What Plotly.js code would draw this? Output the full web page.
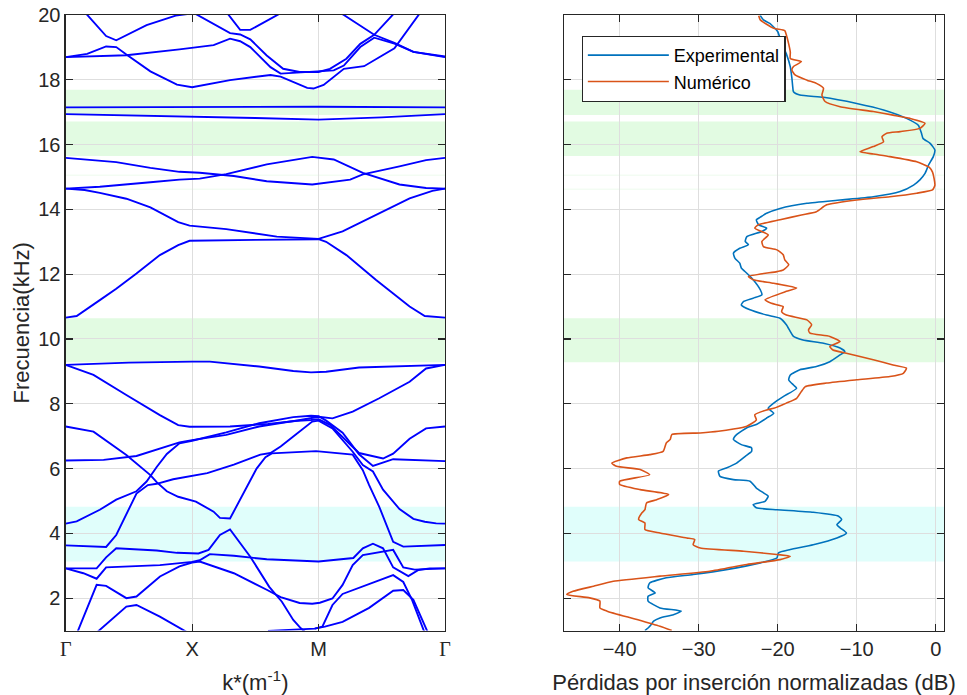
<!DOCTYPE html>
<html><head><meta charset="utf-8">
<script src="https://cdn.plot.ly/plotly-3.0.1.min.js"></script>
<style>html,body{margin:0;padding:0;background:#fff}#chart{width:967px;height:695px}</style>
</head><body><div id="chart"></div>
<script>
// ---------- Left panel: band structure (k path Γ-X-M-Γ = 0..3, frequency in kHz) ----------
const kTickVals = [0, 1, 2, 3];
const kTickText = ["<span style='font-family:Liberation Serif'>Γ</span>", "X", "M", "<span style='font-family:Liberation Serif'>Γ</span>"];

const bT1k = [0.08, 0.17, 0.32, 0.40, 0.64, 0.87, 1.0];
const bT1f = [20.4, 20.0, 19.35, 19.22, 19.69, 19.98, 20.05];
const bT2k = [1.24, 1.38, 1.46, 1.72];
const bT2f = [20.25, 19.54, 19.54, 20.1];
const bU1k = [0, 0.17, 0.32, 0.40, 0.48, 0.67, 0.88, 1.0, 1.30, 1.62, 1.70, 1.91, 1.96, 2.04, 2.20, 2.36, 2.60, 2.80];
const bU1f = [18.70, 18.80, 19.03, 19.01, 18.78, 18.26, 17.85, 17.77, 17.99, 18.15, 18.10, 17.75, 17.73, 17.84, 18.34, 18.42, 18.97, 20.05];
const bQk = [0, 0.48, 0.90, 1.0, 1.17, 1.30, 1.38, 1.46, 1.62, 1.70, 2.0, 2.12, 2.20, 2.33, 2.44, 2.60, 2.75, 3.0];
const bQf = [18.70, 18.76, 18.94, 18.98, 19.07, 19.27, 19.19, 19.01, 18.39, 18.19, 18.26, 18.29, 18.44, 19.01, 19.30, 19.12, 18.86, 18.70];
const bPk = [1.02, 1.30, 1.38, 1.46, 1.59, 1.72, 1.85, 2.0, 2.09, 2.22, 2.33, 2.44, 2.59];
const bPf = [20.05, 19.44, 19.40, 19.25, 18.75, 18.34, 18.24, 18.24, 18.34, 18.65, 19.11, 19.39, 20.02];
const bRk = [2.15, 2.2, 2.44, 2.60, 2.75, 3.0];
const bRf = [20.12, 20.0, 19.39, 19.14, 18.86, 18.72];
const bF1k = [0, 1, 2, 3];
const bF1f = [17.15, 17.16, 17.17, 17.15];
const bF2k = [0, 0.5, 1, 1.5, 2, 2.5, 3];
const bF2f = [16.94, 16.90, 16.88, 16.82, 16.77, 16.84, 16.94];
const bG1k = [0, 0.4, 0.67, 0.9, 1.06, 1.33, 1.59, 1.95, 2.25, 2.35, 2.64, 2.85, 3.0];
const bG1f = [15.59, 15.46, 15.28, 15.16, 15.13, 15.03, 14.87, 14.77, 14.92, 15.08, 15.33, 15.52, 15.59];
const bG2k = [0, 0.27, 0.67, 0.9, 1.06, 1.27, 1.59, 1.95, 2.12, 2.35, 2.64, 2.85, 3.0];
const bG2f = [14.64, 14.70, 14.84, 14.92, 14.95, 15.09, 15.39, 15.62, 15.54, 15.13, 14.77, 14.66, 14.64];
const bH1k = [0, 0.15, 0.27, 0.48, 0.67, 0.89, 0.98, 1.27, 1.67, 2.0, 2.19, 2.455, 2.72, 2.90, 3.0];
const bH1f = [14.64, 14.60, 14.51, 14.33, 14.06, 13.61, 13.50, 13.39, 13.16, 13.09, 13.32, 13.83, 14.34, 14.57, 14.64];
const bH2k = [0, 0.087, 0.27, 0.40, 0.56, 0.745, 0.89, 0.98, 1.5, 2.0, 2.06, 2.22, 2.455, 2.72, 2.84, 3.0];
const bH2f = [10.66, 10.71, 11.2, 11.55, 12.02, 12.59, 12.9, 13.03, 13.06, 13.08, 13.0, 12.59, 11.82, 11.0, 10.71, 10.66];
const bI1k = [0, 0.5, 1.0, 1.14, 1.53, 1.80, 1.94, 2.06, 2.32, 2.85, 3.0];
const bI1f = [9.20, 9.27, 9.30, 9.30, 9.15, 9.01, 8.97, 8.99, 9.12, 9.19, 9.20];
const bI2k = [0, 0.22, 0.48, 0.745, 0.89, 0.98, 1.3, 1.6, 1.8, 2.0, 2.11, 2.27, 2.48, 2.72, 2.85, 3.0];
const bI2f = [9.20, 8.89, 8.27, 7.65, 7.34, 7.29, 7.30, 7.38, 7.46, 7.60, 7.55, 7.76, 8.17, 8.68, 9.09, 9.20];
const bAk = [0, 0.22, 0.48, 0.67, 0.72, 0.80, 0.89, 1.03, 1.17, 1.22, 1.30, 1.51, 1.58, 1.63, 1.98, 2.27, 2.35, 2.40, 2.48, 2.59, 2.67, 3.0];
const bAf = [7.30, 7.14, 6.42, 5.80, 5.58, 5.30, 5.13, 4.98, 4.67, 4.48, 4.46, 6.0, 6.35, 6.47, 6.54, 6.43, 5.95, 5.49, 4.82, 3.74, 3.59, 3.64];
const bZ1k = [0, 0.32, 0.40, 0.48, 0.56, 0.65, 0.72, 0.85, 1.0, 1.12, 1.33, 1.54, 1.62, 1.70, 1.80, 1.95, 2.0, 2.11, 2.27, 2.35, 2.43, 2.51, 2.64, 2.75, 2.84, 2.93, 3.0];
const bZ1f = [3.63, 3.58, 3.95, 4.6, 5.23, 5.49, 5.53, 5.67, 5.78, 5.86, 6.12, 6.43, 6.48, 6.68, 6.99, 7.45, 7.48, 7.24, 6.52, 6.11, 5.91, 5.35, 4.75, 4.45, 4.36, 4.31, 4.30];
const bJ1k = [0, 0.3, 0.56, 0.745, 0.90, 1.0, 1.27, 1.53, 1.80, 1.94, 2.0, 2.09, 2.22, 2.32, 2.51, 2.59, 2.72, 2.85, 3.0];
const bJ1f = [6.25, 6.27, 6.39, 6.62, 6.81, 6.88, 7.04, 7.30, 7.47, 7.50, 7.52, 7.35, 6.84, 6.48, 6.31, 6.46, 6.92, 7.24, 7.30];
const bK1k = [0, 0.087, 0.27, 0.40, 0.56, 0.64, 0.72, 0.80, 0.90, 1.0, 1.27, 1.53, 1.80, 1.94, 2.0, 2.06, 2.19, 2.27, 2.32, 2.43, 2.59, 3.0];
const bK1f = [4.30, 4.37, 4.73, 5.04, 5.30, 5.60, 6.05, 6.45, 6.78, 6.86, 7.12, 7.40, 7.59, 7.63, 7.62, 7.48, 7.11, 6.70, 6.44, 6.08, 6.29, 6.23];
const bZ2k = [0, 0.245, 0.32, 0.40, 0.72, 0.88, 1.05, 1.13, 1.22, 1.30, 1.46, 1.61, 1.71, 1.80, 1.86, 1.91];
const bZ2f = [2.92, 2.92, 3.26, 3.54, 3.47, 3.40, 3.38, 3.49, 3.95, 4.12, 3.28, 2.35, 1.89, 1.33, 1.07, 0.9];
const bZ3k = [0, 0.14, 0.245, 0.32, 0.745, 1.0, 1.06, 1.14, 1.33, 1.59, 2.0, 2.275, 2.35, 2.43, 2.51, 2.59, 2.71, 2.79, 2.88, 3.0];
const bZ3f = [2.92, 2.77, 2.60, 2.95, 3.02, 3.12, 3.17, 3.36, 3.31, 3.20, 3.13, 3.24, 3.54, 3.68, 3.54, 2.95, 2.68, 2.87, 2.92, 2.92];
const bZ5k = [0.08, 0.10, 0.245, 0.32, 0.48, 0.56, 0.746, 0.90, 1.0, 1.06, 1.33, 1.59, 1.70, 1.85, 1.95, 2.01, 2.11, 2.19, 2.27, 2.35, 2.59, 2.67, 2.76, 3.0];
const bZ5f = [0.83, 1.02, 2.41, 2.38, 2.0, 2.05, 2.67, 2.98, 3.10, 3.13, 2.77, 2.26, 2.03, 1.85, 1.83, 1.86, 1.99, 2.41, 3.02, 3.33, 3.49, 2.95, 2.88, 2.92];
const bZ6k = [0.24, 0.48, 0.56, 0.745, 0.96];
const bZ6f = [0.92, 1.74, 1.79, 1.43, 0.95];
const bZ7k = [1.60, 1.85, 1.97, 2.03, 2.11, 2.19, 2.38, 2.59, 2.67, 2.74, 2.83, 2.86];
const bZ7f = [0.99, 1.03, 1.06, 1.12, 1.79, 2.13, 2.41, 2.71, 2.50, 1.94, 1.02, 0.8];
const bZ8k = [1.97, 2.05, 2.19, 2.40, 2.59, 2.67, 2.75, 2.85, 2.88];
const bZ8f = [1.06, 1.12, 1.27, 1.70, 2.23, 2.25, 1.95, 1.02, 0.8];

const branchK = [bT1k, bT2k, bU1k, bQk, bPk, bRk, bF1k, bF2k, bG1k, bG2k, bH1k, bH2k, bI1k, bI2k, bAk, bZ1k, bJ1k, bK1k, bZ2k, bZ3k, bZ5k, bZ6k, bZ7k, bZ8k];
const branchF = [bT1f, bT2f, bU1f, bQf, bPf, bRf, bF1f, bF2f, bG1f, bG2f, bH1f, bH2f, bI1f, bI2f, bAf, bZ1f, bJ1f, bK1f, bZ2f, bZ3f, bZ5f, bZ6f, bZ7f, bZ8f];

// ---------- Band gaps (kHz) ----------
const gapLow  = [3.13, 9.28, 15.65, 16.91, 14.615, 15.05];
const gapHigh = [4.82, 10.64, 16.71, 17.69, 14.635, 15.07];
const gapColor = ['rgb(224,254,251)', 'rgb(226,251,226)', 'rgb(226,251,226)', 'rgb(226,251,226)', 'rgb(232,250,232)', 'rgb(232,250,232)'];

// ---------- Right panel: normalized insertion loss ----------
const expF = [19.98,19.85,19.74,19.49,19.2,18.8,18.4,18.05,17.8,17.63,17.53,17.46,17.27,17.07,16.81,16.60,16.35,16.19,16.04,15.83,15.63,15.37,15.11,14.91,14.75,14.55,14.39,14.29,14.19,14.03,13.88,13.76,13.68,13.52,13.42,13.32,13.16,13.01,12.91,12.80,12.65,12.49,12.34,12.19,12.03,11.83,11.52,11.36,11.26,11.16,11.05,10.90,10.74,10.64,10.44,10.08,9.97,9.87,9.72,9.61,9.51,9.30,9.15,9.05,8.89,8.74,8.58,8.48,8.22,8.02,7.86,7.71,7.56,7.36,7.26,7.05,6.90,6.74,6.64,6.53,6.38,6.17,6.02,5.92,5.76,5.66,5.61,5.40,5.25,5.15,4.99,4.89,4.79,4.73,4.65,4.53,4.43,4.27,4.17,4.01,3.86,3.65,3.50,3.40,3.24,3.09,2.88,2.73,2.63,2.47,2.32,2.16,2.06,1.91,1.70,1.60,1.49,1.39,1.29,1.19,1.08,1.0];
const expDb = [-22.2,-21.8,-21.0,-20.0,-19.6,-18.9,-18.4,-18.2,-18.1,-18.0,-17.2,-14.2,-10.0,-6.6,-3.7,-2.2,-1.8,-1.6,-0.7,-0.1,-0.3,-0.9,-1.35,-2.0,-2.8,-4.5,-7.9,-12.1,-16.3,-19.7,-21.4,-22.2,-22.7,-22.4,-21.4,-22.0,-23.9,-24.1,-23.7,-24.8,-25.6,-25.4,-24.8,-24.6,-23.9,-23.1,-22.2,-22.0,-23.1,-24.3,-24.6,-23.5,-21.4,-19.7,-18.9,-18.0,-16.8,-14.2,-12.1,-11.5,-12.1,-13.4,-15.1,-17.2,-18.4,-18.6,-18.0,-17.6,-19.3,-20.5,-21.2,-20.5,-21.4,-22.7,-23.9,-25.2,-25.6,-24.6,-23.3,-23.3,-24.1,-25.2,-26.5,-27.5,-27.3,-25.6,-23.5,-22.7,-21.8,-21.2,-21.6,-23.1,-22.7,-20.1,-15.5,-12.3,-11.9,-12.5,-12.1,-11.3,-12.5,-15.5,-18.4,-19.9,-20.1,-22.2,-26.5,-30.7,-34.1,-36.2,-36.4,-35.5,-36.4,-36.4,-34.9,-32.2,-33.2,-34.9,-35.7,-36.0,-36.4,-36.8];

const numF = [19.98,19.85,19.59,19.52,19.38,19.1,18.85,18.66,18.56,18.41,18.30,18.15,17.99,17.89,17.74,17.53,17.33,17.17,17.02,16.91,16.81,16.66,16.50,16.40,16.35,16.24,16.09,15.94,15.78,15.71,15.63,15.47,15.30,15.15,14.95,14.75,14.60,14.50,14.39,14.29,14.14,13.93,13.83,13.68,13.52,13.42,13.21,13.01,12.85,12.75,12.60,12.44,12.29,12.13,12.08,11.93,11.83,11.72,11.57,11.47,11.21,11.10,11.00,10.85,10.74,10.59,10.44,10.28,10.18,10.08,9.92,9.77,9.66,9.56,9.36,9.20,9.10,8.94,8.84,8.74,8.64,8.53,8.38,8.17,8.02,7.86,7.81,7.66,7.50,7.31,7.22,7.15,7.10,7.05,6.90,6.79,6.53,6.43,6.33,6.17,6.07,5.97,5.81,5.61,5.51,5.35,5.20,5.04,4.94,4.73,4.63,4.43,4.32,4.12,4.01,3.86,3.81,3.65,3.55,3.45,3.35,3.29,3.19,3.04,2.83,2.68,2.52,2.37,2.21,2.11,2.01,1.91,1.70,1.60,1.34,1.13,1.0];
const numDb = [-22.4,-22.2,-20.5,-19.1,-18.9,-18.6,-18.4,-18.4,-17.0,-18.0,-18.2,-17.8,-16.3,-15.1,-14.2,-14.4,-14.0,-12.1,-7.9,-5.4,-3.25,-1.35,-2.0,-4.5,-6.2,-6.8,-6.6,-7.9,-9.6,-7.9,-5.8,-2.4,-0.8,-0.4,-0.2,-0.1,-0.4,-2.4,-5.8,-10.0,-13.8,-15.1,-17.0,-19.7,-22.5,-22.9,-21.2,-22.0,-21.8,-20.1,-19.3,-19.1,-18.6,-19.3,-20.1,-23.7,-23.1,-20.5,-17.6,-18.9,-21.6,-20.8,-19.3,-19.5,-18.9,-16.3,-15.7,-16.1,-15.9,-13.4,-12.1,-13.4,-13.0,-11.3,-7.9,-5.4,-3.7,-4.1,-5.8,-10.0,-13.8,-16.5,-17.0,-17.6,-18.9,-20.5,-21.4,-22.9,-22.7,-23.9,-25.6,-27.5,-29.8,-33.4,-33.6,-34.1,-34.5,-36.2,-39.1,-41.0,-40.4,-37.4,-36.2,-40.0,-40.0,-37.4,-33.8,-35.3,-36.6,-36.8,-37.2,-37.6,-36.8,-36.8,-34.9,-31.5,-30.5,-30.7,-29.8,-24.3,-20.1,-18.4,-19.7,-23.9,-28.6,-34.9,-40.8,-43.3,-45.9,-46.7,-43.8,-42.5,-42.5,-41.6,-37.8,-34.9,-33.4];
const lossTicks = [-40, -30, -20, -10, 0];

// ---------- Build figure ----------
const FONT = 'Liberation Sans, Arial, Helvetica, sans-serif';
const AX = '#262626';
const traces = [];
for (let i = 0; i < branchK.length; i++) {
  traces.push({x: branchK[i], y: branchF[i], xaxis: 'x', yaxis: 'y', mode: 'lines',
    line: {color: '#0000FF', width: 1.9}, showlegend: false, hoverinfo: 'skip'});
}
traces.push({x: expDb, y: expF, xaxis: 'x2', yaxis: 'y2', mode: 'lines', name: 'Experimental',
  line: {color: '#0072BD', width: 1.6, shape: 'spline', smoothing: 0.5}});
traces.push({x: numDb, y: numF, xaxis: 'x2', yaxis: 'y2', mode: 'lines', name: 'Numérico',
  line: {color: '#D95319', width: 1.6, shape: 'spline', smoothing: 0.5}});

const shapes = [];
for (let i = 0; i < gapLow.length; i++) {
  for (const [xr, yr] of [['x domain', 'y'], ['x2 domain', 'y2']]) {
    shapes.push({type: 'rect', xref: xr, yref: yr, x0: 0, x1: 1, y0: gapLow[i], y1: gapHigh[i],
      fillcolor: gapColor[i], line: {width: 0}, layer: 'below'});
  }
}

const yDom = [0.0927, 0.9784];
const common = {showline: true, mirror: 'ticks', linecolor: AX, linewidth: 1.2, ticks: 'inside',
  ticklen: 7, tickcolor: AX, tickwidth: 1.2, showgrid: true, gridcolor: '#dedede', gridwidth: 1,
  zeroline: false, tickfont: {family: FONT, size: 20, color: AX}};

const layout = {
  width: 967, height: 695, margin: {l: 0, r: 0, t: 0, b: 0},
  paper_bgcolor: '#ffffff', plot_bgcolor: '#ffffff',
  font: {family: FONT, color: AX},
  showlegend: true,
  legend: {x: 0.6015, y: 0.9486, xanchor: 'left', yanchor: 'top', bgcolor: '#ffffff',
    bordercolor: AX, borderwidth: 1.2, font: {family: FONT, size: 18, color: '#000'}, itemwidth: 81,
    tracegroupgap: 0},
  xaxis: Object.assign({}, common, {domain: [0.0679, 0.4602], anchor: 'y', range: [0, 3],
    tickmode: 'array', tickvals: kTickVals, ticktext: kTickText,
    title: {text: 'k*(m<sup>-1</sup>)', font: {family: FONT, size: 22, color: AX}}}),
  yaxis: Object.assign({}, common, {domain: yDom, anchor: 'x', range: [1, 20], tick0: 0, dtick: 2,
    title: {text: 'Frecuencia(kHz)', standoff: 2, font: {family: FONT, size: 22, color: AX}}}),
  xaxis2: Object.assign({}, common, {domain: [0.5832, 0.9762], anchor: 'y2', range: [-47.05, 1.05],
    tickmode: 'array', tickvals: lossTicks,
    title: {text: 'Pérdidas por inserción normalizadas (dB)', font: {family: FONT, size: 22, color: AX}}}),
  yaxis2: Object.assign({}, common, {domain: yDom, anchor: 'x2', range: [1, 20], tick0: 0, dtick: 2,
    showticklabels: false}),
  shapes: shapes
};

Plotly.newPlot('chart', traces, layout, {displayModeBar: false, staticPlot: true});
</script></body></html>
